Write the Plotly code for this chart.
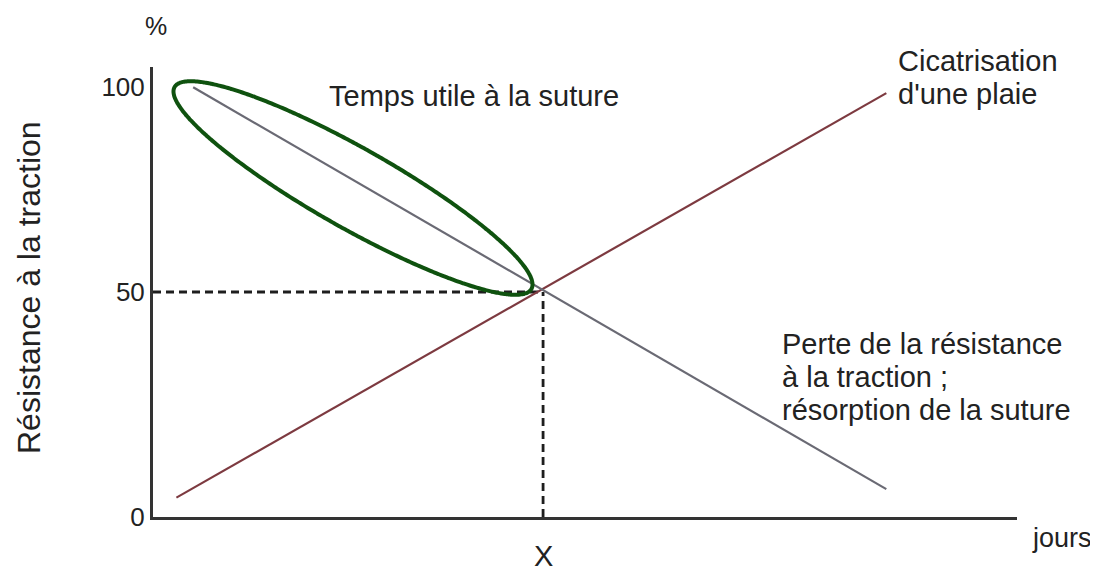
import numpy as np
import plotly.graph_objects as go

# Values in chart units (x: days, X = 10; y: %)
x_mark = 10
y_mark = 50
heal_x = [0.6, 18.8]          # Cicatrisation d'une plaie
heal_y = [4.3, 94.2]
loss_x = [1.03, 18.8]         # Perte de la résistance à la traction
loss_y = [95.5, 6.2]
ytick_vals = [0, 50, 95.5]
ytick_text = ["0", "50", "100"]

# Highlight ellipse (screen-pixel geometry of the drawing)
ell_cx, ell_cy = 353, 188
ell_a, ell_b = 205, 40
ell_angle = np.deg2rad(29.5)

# layout mapping (page body has an 8px margin)
OFF = 8
W, H = 1090, 563
L, R, T, B = 145, 81, 59, 54
x_max = 22.15
y_max = 100
pw, ph = W - L - R, H - T - B
px_per_x = pw / x_max
px_per_y = ph / y_max

def to_x(sx):
    return (sx - OFF - L) / px_per_x

def to_y(sy):
    return (H - B - (sy - OFF)) / px_per_y

def to_px(sx):
    return (sx - OFF - L) / pw

def to_py(sy):
    return (H - B - (sy - OFF)) / ph

t = np.linspace(0, 2 * np.pi, 360)
ex = ell_cx + ell_a * np.cos(t) * np.cos(ell_angle) - ell_b * np.sin(t) * np.sin(ell_angle)
ey = ell_cy + ell_a * np.cos(t) * np.sin(ell_angle) + ell_b * np.sin(t) * np.cos(ell_angle)

fig = go.Figure()
fig.add_trace(go.Scatter(x=[0, x_mark], y=[y_mark, y_mark], mode="lines",
                         line=dict(color="#1e1e1e", width=2.8, dash="8px,5px"), hoverinfo="skip"))
fig.add_trace(go.Scatter(x=[x_mark, x_mark], y=[0, y_mark], mode="lines",
                         line=dict(color="#1e1e1e", width=2.8, dash="8px,5px"), hoverinfo="skip"))
fig.add_trace(go.Scatter(x=heal_x, y=heal_y, mode="lines",
                         line=dict(color="#7d3a40", width=2.2), name="Cicatrisation"))
fig.add_trace(go.Scatter(x=loss_x, y=loss_y, mode="lines",
                         line=dict(color="#6a6a74", width=2.2), name="Perte"))
fig.add_trace(go.Scatter(x=to_x(ex), y=to_y(ey), mode="lines",
                         line=dict(color="#0f520f", width=4, simplify=False, shape="spline"),
                         hoverinfo="skip"))

font = "Liberation Sans, Arial, sans-serif"
txt = "#222"

def ann(text, sx, sy, size=29, xanchor="left", yanchor="middle", angle=0):
    fig.add_annotation(text=text, x=to_px(sx), y=to_py(sy), xref="paper", yref="paper",
                       showarrow=False, xanchor=xanchor, yanchor=yanchor,
                       textangle=angle, font=dict(family=font, size=size, color=txt))

ann("Temps utile à la suture", 327, 96)
ann("Cicatrisation", 896, 61)
ann("d'une plaie", 896, 94)
ann("Perte de la résistance", 780, 344)
ann("à la traction ;", 780, 377)
ann("résorption de la suture", 780, 410)
ann("jours", 1062, 538, size=27, xanchor="center")
ann("X", 543, 556, size=29, xanchor="center")
ann("%", 156, 26, size=25, xanchor="center")
ann("Résistance à la traction", 29, 288, size=32, xanchor="center", angle=-90)

fig.update_layout(
    width=W, height=H,
    margin=dict(l=L, r=R, t=T, b=B),
    plot_bgcolor="white", paper_bgcolor="white",
    showlegend=False,
    xaxis=dict(range=[0, x_max], showgrid=False, zeroline=False, showticklabels=False,
               showline=True, linecolor="#333", linewidth=3, ticks=""),
    yaxis=dict(range=[0, y_max], showgrid=False, zeroline=False,
               tickvals=ytick_vals, ticktext=ytick_text, ticks="",
               tickfont=dict(family=font, size=26, color=txt),
               showline=True, linecolor="#333", linewidth=3),
)
fig.write_html("out.html")
